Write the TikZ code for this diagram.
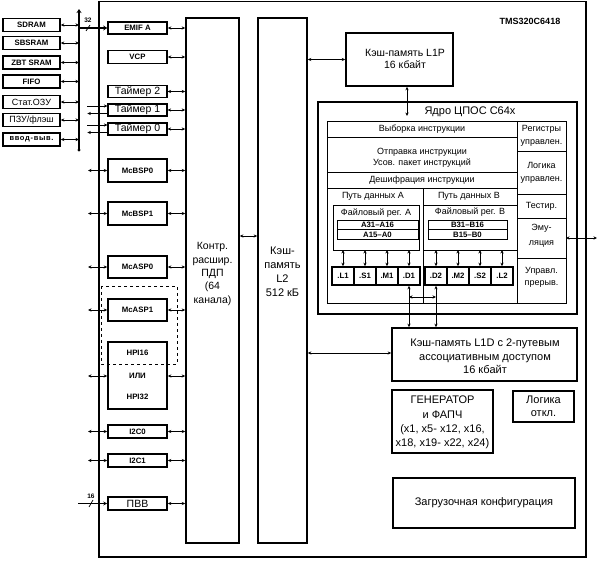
\documentclass[tikz,border=0pt]{standalone}
\usepackage{fontspec}
\setmainfont{Liberation Sans}
\usetikzlibrary{arrows.meta,calc}
\newcommand\myb{\fontsize{7.8}{9}\selectfont\bfseries}
\newcommand\myr{\fontsize{9}{11}\selectfont}
\newcommand\myl{\fontsize{10.5}{12}\selectfont}
\newcommand\mym{\fontsize{11}{13.5}\selectfont}
\begin{document}
\begin{tikzpicture}[x=1pt,y=-1pt,
  tip/.tip={Stealth[length=3.5pt,width=3.2pt]},
  box/.style={draw, line width=1.6pt, inner sep=0pt, align=center},
  mem/.style={box, minimum width=57pt, minimum height=13pt, font=\myb},
  per/.style={box, minimum width=59pt, font=\myb},
  unit/.style={box, minimum width=22pt, minimum height=18pt, font=\myb},
  thinbox/.style={draw, line width=0.6pt},
  txt/.style={inner sep=0pt, align=center, font=\myr},
  dar/.style={tip-tip, line width=0.8pt},
  sar/.style={-tip, line width=0.8pt},
  bus/.style={line width=2.6pt}
]
\useasboundingbox (0,0) rectangle (598,561);

% chip
\draw[line width=1.8pt] (99,1.5) rectangle (586,557);
\node[inner sep=0pt, font=\fontsize{9}{10}\selectfont\bfseries] (chipname) at (530,21) {TMS320C6418};

% external memory
\node[mem] (sdram) at (31.5,25) {SDRAM};
\node[mem] (sbsram) at (31.5,43) {SBSRAM};
\node[mem] (zbt) at (31.5,62.5) {ZBT SRAM};
\node[mem] (fifo) at (31.5,81.5) {FIFO};
\node[mem, font=\myr] (stat) at (31.5,102) {Стат.ОЗУ};
\node[mem, font=\myr] (pzu) at (31.5,120) {ПЗУ/флэш};
\node[mem, font=\fontsize{7.5}{9}\selectfont\bfseries\addfontfeatures{LetterSpace=9}] (io) at (31.5,139.5) {ввод-выв.};

% bus
\coordinate (busT) at (79,9);
\coordinate (busB) at (79,150);
\draw[bus, -{Stealth[length=4pt,width=5pt]}] (busB) -- (busT);
\fill (busB) circle (1.6pt);
\foreach \n in {sdram,sbsram,zbt,fifo,stat,pzu,io}
  \draw[dar] (\n.east) -- (\n.east -| busT);

% peripherals
\node[per, minimum height=12pt] (emif) at (137.5,28) {EMIF A};
\node[per, minimum height=13pt] (vcp) at (137.5,57) {VCP};
\node[per, minimum height=12pt, font=\myl, line width=1.2pt] (t2) at (137.5,91.5) {Таймер 2};
\node[per, minimum height=12pt, font=\myl, line width=1.2pt] (t1) at (137.5,110) {Таймер 1};
\node[per, minimum height=12pt, font=\myl, line width=1.2pt] (t0) at (137.5,129) {Таймер 0};
\node[per, minimum height=23pt] (bsp0) at (137.5,170.5) {McBSP0};
\node[per, minimum height=23pt] (bsp1) at (137.5,213.5) {McBSP1};
\node[per, minimum height=22pt] (asp0) at (137.5,267) {McASP0};
\node[per, minimum height=22pt] (asp1) at (137.5,310) {McASP1};
\node[per, minimum height=67pt] (hpi) at (137.5,375.5) {};
\node[txt, font=\myb] (hpi16) at (137.5,353) {HPI16};
\node[txt, font=\myb] (ili) at (137.5,376) {ИЛИ};
\node[txt, font=\myb] (hpi32) at (137.5,397) {HPI32};
\node[per, minimum height=13pt] (i2c0) at (137.5,431.5) {I2C0};
\node[per, minimum height=13pt] (i2c1) at (137.5,460.5) {I2C1};
\node[per, minimum height=13pt, font=\fontsize{10.5}{12}\selectfont] (pvv) at (137.5,503.5) {ПВВ};
\draw[dashed, line width=0.7pt] (101,286) rectangle (177,364);

% EMIF bus
\draw[bus, -{Stealth[length=4pt,width=5pt]}] (emif.west -| busT) -- (emif.west);
\draw[line width=0.7pt] (86,31) -- (90,25);
\node[inner sep=0pt, font=\fontsize{6.5}{7}\selectfont\bfseries] (n32) at (88,20) {32};

% timer side signals
\coordinate (lft) at (88,0);
\draw[sar] (t1.west |- 0,106) ++(-20,0) -- (t1.west |- 0,106);
\draw[sar] (t1.west |- 0,113.5) -- ++(-20,0);
\draw[sar] (t0.west |- 0,125) ++(-20,0) -- (t0.west |- 0,125);
\draw[sar] (t0.west |- 0,132.5) -- ++(-20,0);
\foreach \n in {bsp0,bsp1,asp0,asp1,i2c0,i2c1}
  \draw[dar] (\n.west) -- (\n.west -| lft);
\draw[dar] (hpi.west |- ili) -- (ili -| lft);

% PVV
\draw[line width=1.6pt, -{Stealth[length=4pt,width=4pt]}] (pvv.west) ++(-29,0) -- (pvv.west);
\draw[line width=0.7pt] (89,507) -- (93,500);
\node[inner sep=0pt, font=\fontsize{6.5}{7}\selectfont\bfseries] (n16) at (91,496) {16};

% DMA and L2
\node[box, minimum width=53pt, minimum height=525pt] (dma) at (212.5,280.5) {};
\node[txt, font=\fontsize{10.5}{13.3}\selectfont, align=center] (dmatxt) at (212.5,274) {Контр.\\расшир.\\ПДП\\(64\\канала)};
\node[box, minimum width=49pt, minimum height=525pt] (l2) at (282.5,280.5) {};
\node[txt, font=\fontsize{11}{14}\selectfont, align=center] (l2txt) at (282.5,271.5) {Кэш-\\память\\L2\\512 кБ};
\foreach \n in {emif,vcp,t2,t1,t0,bsp0,bsp1,asp0,asp1,i2c0,i2c1,pvv}
  \draw[dar] (\n.east) -- (\n.east -| dma.west);
\draw[dar] (hpi.east |- ili) -- (ili -| dma.west);
\draw[dar] (dma.east |- 0,236) -- (l2.west |- 0,236);

% L1P
\node[box, minimum width=107pt, minimum height=53pt] (l1p) at (399.5,59.5) {};
\node[txt, font=\fontsize{10.5}{12}\selectfont] (l1ptxt) at (405,59) {Кэш-память L1P\\16 кбайт};
\draw[dar] (l2.east |- l1p) -- (l1p.west);

% core
\draw[line width=2.6pt] (318,102) rectangle (577,314);
\node[txt, font=\mym] (coretitle) at (470,112) {Ядро ЦПОС С64х};
\draw[thinbox] (327,121) rectangle (566,303);
\coordinate (tabtop) at (407,121);
\draw[dar] (l1p.south -| tabtop) -- ($(tabtop)+(0,-5)$);
\draw[thinbox] (517,121) -- (517,303);
\draw[thinbox] (327,137) -- (517,137);
\draw[thinbox] (327,172) -- (517,172);
\draw[thinbox] (327,188) -- (517,188);
\draw[thinbox] (423,188) -- (423,303);
\foreach \y in {151,194,218,258} \draw[thinbox] (517,\y) -- (566,\y);
\node[txt] (fetch) at (422,129) {Выборка инструкции};
\node[txt] (disp) at (422,158) {Отправка инструкции\\Усов. пакет инструкций};
\node[txt] (dec) at (422,180) {Дешифрация инструкции};
\node[txt] (pathA) at (373,196) {Путь данных А};
\node[txt] (pathB) at (469,196) {Путь данных В};
\node[txt, font=\fontsize{9}{13}\selectfont] (creg) at (541.5,135.5) {Регистры\\управлен.};
\node[txt, font=\fontsize{9}{13}\selectfont] (clog) at (541.5,172.5) {Логика\\управлен.};
\node[txt] (test) at (541.5,206) {Тестир.};
\node[txt, font=\fontsize{9}{15}\selectfont] (emu) at (541.5,235.5) {Эму-\\ляция};
\node[txt, font=\fontsize{9}{11.5}\selectfont] (intr) at (541.5,277.5) {Управл.\\прерыв.};
\draw[dar] (566,238) -- (597,238);

% register files
\draw[thinbox] (333,205) rectangle (419,250);
\node[txt] (rfA) at (376,213) {Файловый рег. А};
\draw[thinbox] (337,220) rectangle (418,239.5);
\draw[thinbox] (337,229.5) -- (418,229.5);
\node[txt, font=\myb] (a31) at (377.5,224.8) {A31–A16};
\node[txt, font=\myb] (a15) at (377.5,234.5) {A15–A0};
\draw[thinbox] (423,205) rectangle (517,250);
\node[txt] (rfB) at (470,212) {Файловый рег. В};
\draw[thinbox] (428,220) rectangle (507,239.5);
\draw[thinbox] (428,229.5) -- (507,229.5);
\node[txt, font=\myb] (b31) at (467.5,224.8) {B31–B16};
\node[txt, font=\myb] (b15) at (467.5,234.5) {B15–B0};

% functional units
\node[unit] (L1) at (343,276) {.L1};
\node[unit] (S1) at (365,276) {.S1};
\node[unit] (M1) at (387,276) {.M1};
\node[unit] (D1) at (409,276) {.D1};
\node[unit] (D2) at (436,276) {.D2};
\node[unit] (M2) at (458,276) {.M2};
\node[unit] (S2) at (480,276) {.S2};
\node[unit] (L2u) at (502,276) {.L2};
\foreach \n in {L1,S1,M1,D1,D2,M2,S2,L2u}
  \draw[dar] (\n.north) -- (\n.north |- 0,250);

% L1D
\node[box, minimum width=185pt, minimum height=53pt] (l1d) at (484.5,354.5) {};
\node[txt, font=\mym] (l1dtxt) at (485,356.5) {Кэш-память L1D с 2-путевым\\ассоциативным доступом\\16 кбайт};
\draw[dar] (D1.south) -- (D1.south |- l1d.north);
\draw[dar] (D2.south) -- (D2.south |- l1d.north);
\draw[dar] (D1.south |- 0,297) -- (D2.south |- 0,297);
\draw[dar] (l2.east |- 0,353) -- (l1d.west |- 0,353);

% generator etc.
\node[box, minimum width=101pt, minimum height=63pt] (gen) at (442.5,421.5) {};
\node[txt, font=\fontsize{11}{14.3}\selectfont] (gentxt) at (442.5,422.5) {ГЕНЕРАТОР\\и ФАПЧ\\(x1, x5- x12, x16,\\x18, x19- x22, x24)};
\node[box, minimum width=61pt, minimum height=31pt, font=\mym] (off) at (543.5,406.5) {Логика\\откл.};
\node[box, minimum width=182pt, minimum height=50pt, font=\mym] (boot) at (484,503) {Загрузочная конфигурация};
\end{tikzpicture}
\end{document}
